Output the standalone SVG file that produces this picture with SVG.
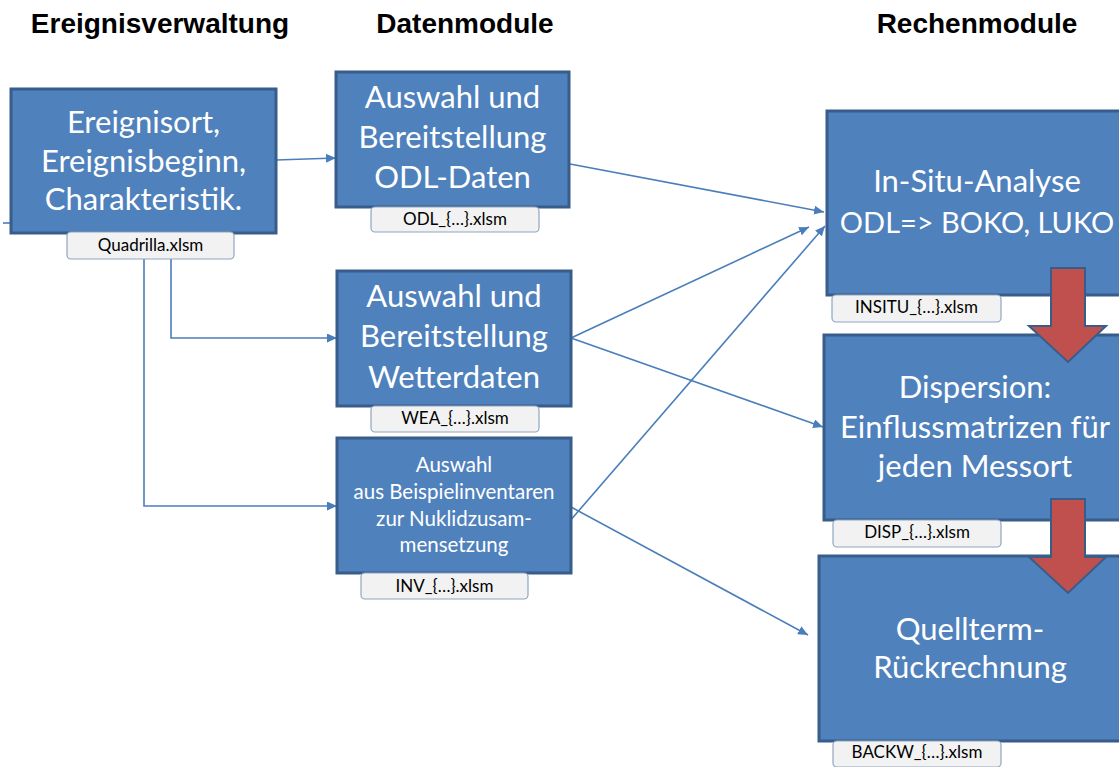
<svg xmlns="http://www.w3.org/2000/svg" width="1119" height="767" viewBox="0 0 1119 767">
<defs>
<marker id="ah" markerWidth="10" markerHeight="9" refX="10" refY="4.5" orient="auto" markerUnits="userSpaceOnUse">
<path d="M0,0 L10,4.5 L0,9 Z" fill="#4A7EBB"/>
</marker>
<style>
.hdr{font-family:"Liberation Sans",Arial,sans-serif;font-weight:bold;font-size:28px;fill:#000;text-anchor:middle}
.box{fill:#4F81BD;stroke:#385D8A;stroke-width:3}
.big{font-family:Lato,"Liberation Sans",sans-serif;font-size:31px;fill:#fff;text-anchor:middle}
.sm{font-family:Lato,"Liberation Sans",sans-serif;font-size:20.5px;fill:#fff;text-anchor:middle}
.lbl{fill:#F2F2F2;stroke:#8FA6C2;stroke-width:1.2}
.lt{font-family:Lato,"Liberation Sans",sans-serif;font-size:17px;fill:#000;text-anchor:middle}
.con{fill:none;stroke:#4A7EBB;stroke-width:1.6}
.red{fill:#C0504D;stroke:#385D8A;stroke-width:2}
</style>
</defs>
<rect width="1119" height="767" fill="#fff"/>
<text class="hdr" x="160" y="33">Ereignisverwaltung</text>
<text class="hdr" x="465" y="33">Datenmodule</text>
<text class="hdr" x="977" y="33">Rechenmodule</text>
<g id="connectors">
<line class="con" x1="3" y1="223" x2="12" y2="223"/>
<line class="con" x1="276" y1="160" x2="336" y2="158" marker-end="url(#ah)"/>
<polyline class="con" points="171,225 171,338 337,338" marker-end="url(#ah)"/>
<polyline class="con" points="144,225 144,506 337,506" marker-end="url(#ah)"/>
<line class="con" x1="570" y1="164" x2="824" y2="212" marker-end="url(#ah)"/>
<line class="con" x1="571" y1="338" x2="809" y2="227" marker-end="url(#ah)"/>
<line class="con" x1="571" y1="338" x2="823" y2="427" marker-end="url(#ah)"/>
<line class="con" x1="569" y1="522" x2="825" y2="226" marker-end="url(#ah)"/>
<line class="con" x1="571" y1="507" x2="808" y2="635" marker-end="url(#ah)"/>
</g>
<g id="ereignis">
<rect class="box" x="11" y="89" width="265" height="144"/>
<text class="big" x="143.5" y="133">Ereignisort,</text>
<text class="big" x="143.5" y="172">Ereignisbeginn,</text>
<text class="big" x="143.5" y="210">Charakteristik.</text>
<rect class="lbl" x="67" y="232" width="167" height="27" rx="4"/>
<text class="lt" x="150.5" y="251">Quadrilla.xlsm</text>
</g>
<g id="odl">
<rect class="box" x="336" y="72" width="233" height="135"/>
<text class="big" x="452.5" y="108">Auswahl und</text>
<text class="big" x="452.5" y="148">Bereitstellung</text>
<text class="big" x="452.5" y="188">ODL-Daten</text>
<rect class="lbl" x="371" y="207" width="168" height="25" rx="4"/>
<text class="lt" x="455" y="225">ODL_{…}.xlsm</text>
</g>
<g id="wetter">
<rect class="box" x="337" y="271" width="234" height="135"/>
<text class="big" x="454" y="307">Auswahl und</text>
<text class="big" x="454" y="347">Bereitstellung</text>
<text class="big" x="454" y="388">Wetterdaten</text>
<rect class="lbl" x="371" y="406" width="168" height="26" rx="4"/>
<text class="lt" x="455" y="424">WEA_{…}.xlsm</text>
</g>
<g id="inv">
<rect class="box" x="337" y="438" width="234" height="135"/>
<text class="sm" x="454" y="472">Auswahl</text>
<text class="sm" x="454" y="499">aus Beispielinventaren</text>
<text class="sm" x="454" y="526">zur Nuklidzusam-</text>
<text class="sm" x="454" y="552">mensetzung</text>
<rect class="lbl" x="361" y="573" width="167" height="26" rx="4"/>
<text class="lt" x="444.5" y="592">INV_{…}.xlsm</text>
</g>
<g id="insitu">
<rect class="box" x="827" y="111" width="300" height="184"/>
<text class="big" x="977" y="192">In-Situ-Analyse</text>
<text class="big" x="977" y="233" style="font-size:29px">ODL=&gt; BOKO, LUKO</text>
<rect class="lbl" x="832" y="295" width="169" height="27" rx="4"/>
<text class="lt" x="916.5" y="313">INSITU_{…}.xlsm</text>
</g>
<g id="dispersion">
<rect class="box" x="824" y="335" width="300" height="185"/>
<text class="big" x="975" y="398">Dispersion:</text>
<text class="big" x="975" y="438">Einflussmatrizen für</text>
<text class="big" x="975" y="477">jeden Messort</text>
<rect class="lbl" x="833" y="520" width="168" height="27" rx="4"/>
<text class="lt" x="917" y="538">DISP_{…}.xlsm</text>
</g>
<g id="quellterm">
<rect class="box" x="819" y="556" width="305" height="185"/>
<text class="big" x="970" y="640">Quellterm-</text>
<text class="big" x="970" y="678">Rückrechnung</text>
<rect class="lbl" x="833" y="741" width="168" height="26" rx="4"/>
<text class="lt" x="917" y="758">BACKW_{…}.xlsm</text>
</g>
<g id="flow-arrows">
<path class="red" d="M1051,268 L1085,268 L1085,326 L1106,326 L1068,362 L1029,326 L1051,326 Z"/>
<path class="red" d="M1051,499 L1085,499 L1085,557 L1106,557 L1068,593 L1029,557 L1051,557 Z"/>
</g>
</svg>
